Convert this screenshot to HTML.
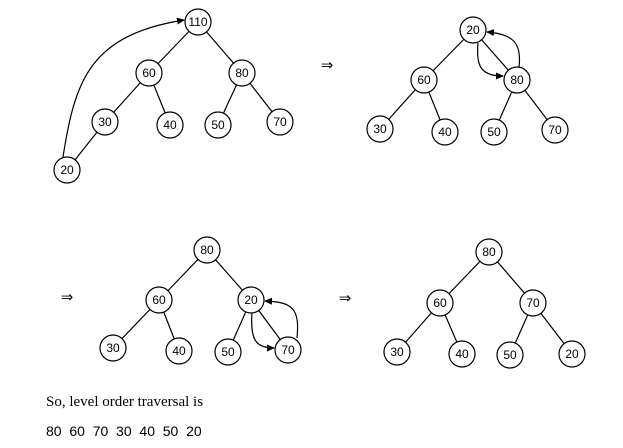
<!DOCTYPE html>
<html><head><style>body{margin:0;background:#fff}svg{display:block}</style></head><body>
<svg width="623" height="448" viewBox="0 0 623 448" xmlns="http://www.w3.org/2000/svg">
<defs><marker id="a" markerWidth="8" markerHeight="8" refX="7" refY="4" orient="auto" markerUnits="userSpaceOnUse"><path d="M0,0.5 L8,4 L0,7.5z" fill="#000"/></marker></defs>
<g stroke="#000" stroke-width="1.2" fill="none">
<line x1="198" y1="22" x2="149" y2="73"/><line x1="198" y1="22" x2="242" y2="73"/>
<line x1="149" y1="73" x2="105" y2="122"/><line x1="149" y1="73" x2="170" y2="125"/>
<line x1="242" y1="73" x2="218" y2="125"/><line x1="242" y1="73" x2="280" y2="122"/>
<line x1="105" y1="122" x2="67" y2="170"/>
<path d="M63,157 C75,80 90,35 184,20" marker-end="url(#a)"/>
<line x1="473" y1="30" x2="424" y2="80"/><line x1="473" y1="30" x2="517" y2="80"/>
<line x1="424" y1="80" x2="380" y2="129"/><line x1="424" y1="80" x2="445" y2="132"/>
<line x1="517" y1="80" x2="494" y2="132"/><line x1="517" y1="80" x2="555" y2="130"/>
<path d="M478,43 C476,65 480,76 503,76" marker-end="url(#a)"/>
<path d="M519,67 C522,42 512,34 487,32" marker-end="url(#a)"/>
<line x1="207" y1="250" x2="159" y2="300"/><line x1="207" y1="250" x2="251" y2="300"/>
<line x1="159" y1="300" x2="113" y2="348"/><line x1="159" y1="300" x2="179" y2="351"/>
<line x1="251" y1="300" x2="228" y2="352"/><line x1="251" y1="300" x2="288" y2="350"/>
<path d="M252,313 C250,340 256,348 274,348" marker-end="url(#a)"/>
<path d="M297,338 C300,308 292,302 265,301" marker-end="url(#a)"/>
<line x1="489" y1="252" x2="440" y2="303"/><line x1="489" y1="252" x2="533" y2="303"/>
<line x1="440" y1="303" x2="397" y2="352"/><line x1="440" y1="303" x2="462" y2="354"/>
<line x1="533" y1="303" x2="510" y2="355"/><line x1="533" y1="303" x2="572" y2="354"/>
</g>
<g fill="#fff" stroke="#000" stroke-width="1.2">
<circle cx="198" cy="22" r="13"/><circle cx="149" cy="73" r="13"/><circle cx="242" cy="73" r="13"/><circle cx="105" cy="122" r="13"/><circle cx="170" cy="125" r="13"/><circle cx="218" cy="125" r="13"/><circle cx="280" cy="122" r="13"/><circle cx="67" cy="170" r="13"/>
<circle cx="473" cy="30" r="13"/><circle cx="424" cy="80" r="13"/><circle cx="517" cy="80" r="13"/><circle cx="380" cy="129" r="13"/><circle cx="445" cy="132" r="13"/><circle cx="494" cy="132" r="13"/><circle cx="555" cy="130" r="13"/>
<circle cx="207" cy="250" r="13"/><circle cx="159" cy="300" r="13"/><circle cx="251" cy="300" r="13"/><circle cx="113" cy="348" r="13"/><circle cx="179" cy="351" r="13"/><circle cx="228" cy="352" r="13"/><circle cx="288" cy="350" r="13"/>
<circle cx="489" cy="252" r="13"/><circle cx="440" cy="303" r="13"/><circle cx="533" cy="303" r="13"/><circle cx="397" cy="352" r="13"/><circle cx="462" cy="354" r="13"/><circle cx="510" cy="355" r="13"/><circle cx="572" cy="354" r="13"/>
</g>
<g font-family="Liberation Sans, sans-serif" font-size="12" text-anchor="middle" fill="#000">
<text x="198" y="26">110</text><text x="149" y="77">60</text><text x="242" y="77">80</text><text x="105" y="126">30</text><text x="170" y="129">40</text><text x="218" y="129">50</text><text x="280" y="126">70</text><text x="67" y="174">20</text>
<text x="473" y="34">20</text><text x="424" y="84">60</text><text x="517" y="84">80</text><text x="380" y="133">30</text><text x="445" y="136">40</text><text x="494" y="136">50</text><text x="555" y="134">70</text>
<text x="207" y="254">80</text><text x="159" y="304">60</text><text x="251" y="304">20</text><text x="113" y="352">30</text><text x="179" y="355">40</text><text x="228" y="356">50</text><text x="288" y="354">70</text>
<text x="489" y="256">80</text><text x="440" y="307">60</text><text x="533" y="307">70</text><text x="397" y="356">30</text><text x="462" y="358">40</text><text x="510" y="359">50</text><text x="572" y="358">20</text>
</g>
<g font-family="DejaVu Sans, sans-serif" font-size="15" text-anchor="middle">
<text x="327" y="70">⇒</text><text x="67" y="302">⇒</text><text x="345" y="303">⇒</text>
</g>
<text x="46" y="406" font-family="Liberation Serif, serif" font-size="15">So, level order traversal is</text>
<text x="46" y="436" font-family="Liberation Sans, sans-serif" font-size="14" xml:space="preserve">80  60  70  30  40  50  20</text>
</svg>
</body></html>
